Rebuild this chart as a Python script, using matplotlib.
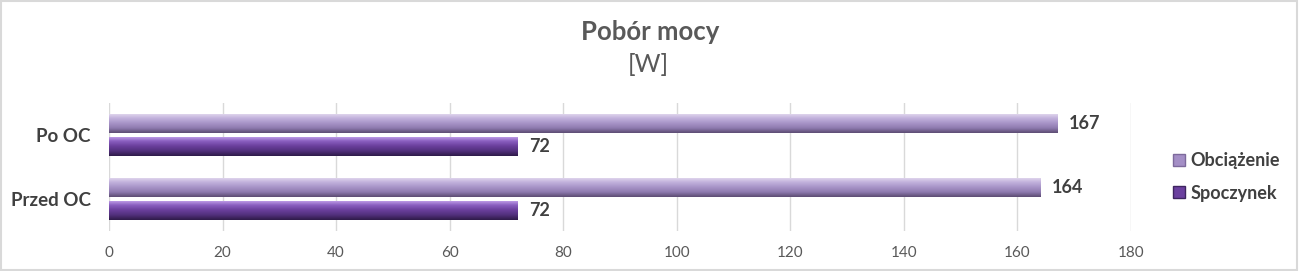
import matplotlib
matplotlib.use("Agg")
import matplotlib.pyplot as plt
import numpy as np
from matplotlib.colors import LinearSegmentedColormap
from matplotlib.patches import Rectangle, Patch

categories = ["Przed OC", "Po OC"]
series_names = ["Obciążenie", "Spoczynek"]
obciazenie = [164, 167]
spoczynek = [72, 72]
xticks = [0, 20, 40, 60, 80, 100, 120, 140, 160, 180]

plt.rcParams['font.family'] = ['Lato', 'DejaVu Sans']

fig = plt.figure(figsize=(13, 2.71), dpi=100)
ax = fig.add_axes([109/1300, 40/271, (1131-109)/1300, 128/271])

y = np.arange(len(categories))
h = 0.30
off = 0.176

cmap_obc = LinearSegmentedColormap.from_list("obc", ["#e6dcf0", "#c2b2dc", "#a894c8", "#8f7bb0", "#5c4c72"])
cmap_spo = LinearSegmentedColormap.from_list("spo", ["#c8a8ee", "#8a5fc0", "#6a3f9c", "#52307c", "#2e1a48"])

b1 = ax.barh(y + off, obciazenie, height=h, color="#a48fc6", zorder=2)
b2 = ax.barh(y - off, spoczynek, height=h, color="#6b409f", zorder=2)

grad = np.linspace(0, 1, 100).reshape(-1, 1)
for bars, cm in ((b1, cmap_obc), (b2, cmap_spo)):
    for p in bars:
        x0, y0 = p.get_x(), p.get_y()
        w, hh = p.get_width(), p.get_height()
        im = ax.imshow(grad, extent=[x0, x0 + w, y0, y0 + hh], origin="upper",
                       aspect="auto", cmap=cm, zorder=3, interpolation="bicubic")
        im.set_clip_path(p)

for bars, vals in ((b1, obciazenie), (b2, spoczynek)):
    for p, v in zip(bars, vals):
        ax.text(v + 2.0, p.get_y() + p.get_height() / 2, str(v), va="center", ha="left",
                fontsize=13, fontweight="bold", color="#404040", zorder=4)

ax.set_xlim(0, 180)
ax.set_ylim(-0.5, 1.5)
ax.set_aspect("auto")
ax.set_xticks(xticks)
ax.set_xticklabels([str(t) for t in xticks], fontsize=11, color="#595959")
ax.tick_params(axis="both", length=0)
ax.tick_params(axis="x", pad=11)
ax.tick_params(axis="y", pad=13)
ax.set_yticks(y)
ax.set_yticklabels(categories, fontsize=13.5, fontweight="bold", color="#404040")
ax.grid(axis="x", color="#d9d9d9", linewidth=1, zorder=0)
ax.set_axisbelow(True)
for s in ax.spines.values():
    s.set_visible(False)

fig.text(650/1300, 1 - 32/271, "Pobór mocy", ha="center", va="center",
         fontsize=18.5, fontweight="bold", color="#595959")
fig.text(648/1300, 1 - 65/271, "[W]", ha="center", va="center",
         fontsize=18, fontweight="normal", color="#595959")

handles = [Patch(facecolor="#a48fc6", edgecolor="#7d6a9c"),
           Patch(facecolor="#6b409f", edgecolor="#3e2560")]
leg = fig.legend(handles, series_names, loc="center left",
                 bbox_to_anchor=(1157/1300, 1 - 177/271), frameon=False,
                 prop={"size": 13, "weight": "bold"}, handlelength=0.65,
                 handleheight=0.65, handletextpad=0.3, labelspacing=0.85)
for t in leg.get_texts():
    t.set_color("#404040")

fig.patches.append(Rectangle((0.001, 0.002), 0.997, 0.994, transform=fig.transFigure,
                             fill=False, edgecolor="#d9d9d9", linewidth=1.5))

fig.savefig("out.png", dpi=100)
